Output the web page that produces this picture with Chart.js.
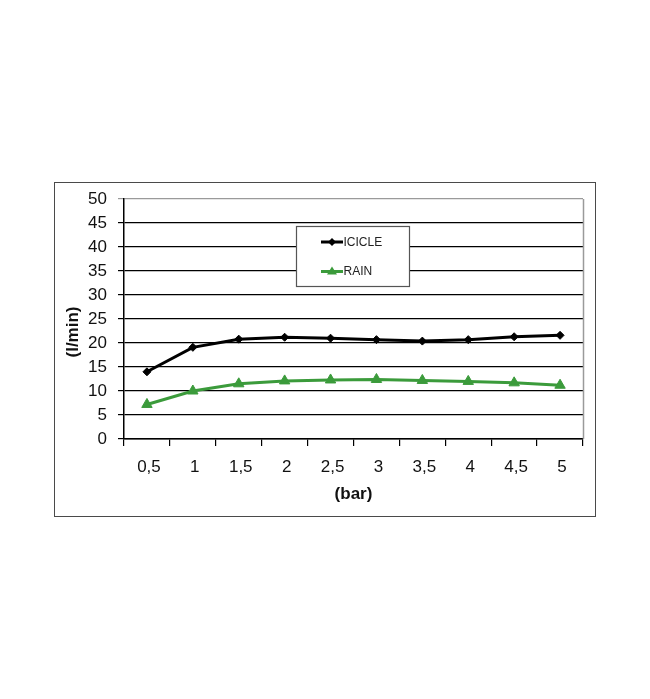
<!DOCTYPE html>
<html>
<head>
<meta charset="utf-8">
<script src="https://cdn.jsdelivr.net/npm/chart.js@4/dist/chart.umd.min.js"></script>
<style>
html,body{margin:0;padding:0;background:#fff;}
#wrap{position:relative;width:650px;height:699px;}
</style>
</head>
<body>
<div id="wrap"><canvas id="c" width="650" height="699"></canvas></div>
<script>
const categories = ['0,5','1','1,5','2','2,5','3','3,5','4','4,5','5'];
const icicle = [14.0, 19.1, 20.8, 21.2, 21.0, 20.7, 20.4, 20.7, 21.3, 21.6];
const rain = [7.2, 10.0, 11.5, 12.1, 12.3, 12.4, 12.2, 12.0, 11.7, 11.2];
const seriesNames = ['ICICLE','RAIN'];
const yTitle = '(l/min)';
const xTitle = '(bar)';

const FONT = "'Liberation Sans',Arial,sans-serif";
const GREEN = '#3b9b3b';

const framePlugin = {
  id: 'frame',
  beforeDraw(chart) {
    const ctx = chart.ctx;
    ctx.save();
    ctx.fillStyle = '#fff';
    ctx.fillRect(0, 0, chart.width, chart.height);
    ctx.strokeStyle = '#4a4a4a';
    ctx.lineWidth = 1;
    ctx.strokeRect(54.5, 182.5, 541, 334);
    ctx.restore();
  },
  afterDatasetsDraw(chart) {
    const ctx = chart.ctx;
    const a = chart.chartArea;
    ctx.save();
    ctx.strokeStyle = '#9a9a9a';
    ctx.lineWidth = 1.5;
    ctx.beginPath();
    ctx.moveTo(Math.round(a.right) + 0.5, a.bottom);
    ctx.lineTo(Math.round(a.right) + 0.5, a.top);
    ctx.stroke();
    // y axis title
    ctx.save();
    ctx.translate(73, 332);
    ctx.rotate(-Math.PI / 2);
    ctx.fillStyle = '#111';
    ctx.font = "bold 17px " + FONT;
    ctx.textAlign = 'center';
    ctx.textBaseline = 'middle';
    ctx.fillText(yTitle, 0, 0);
    ctx.restore();
    // legend box
    const lx = 296.5, ly = 226.5, lw = 113, lh = 60;
    ctx.fillStyle = '#fff';
    ctx.fillRect(lx, ly, lw, lh);
    ctx.strokeStyle = '#555';
    ctx.lineWidth = 1.2;
    ctx.strokeRect(lx, ly, lw, lh);
    const rows = [242, 271.5];
    chart.data.datasets.forEach((ds, i) => {
      const y = rows[i];
      ctx.strokeStyle = ds.borderColor;
      ctx.lineWidth = 3;
      ctx.beginPath();
      ctx.moveTo(321, y);
      ctx.lineTo(343, y);
      ctx.stroke();
      ctx.fillStyle = ds.pointBackgroundColor;
      ctx.beginPath();
      if (i === 0) {
        ctx.moveTo(332, y - 4); ctx.lineTo(336, y); ctx.lineTo(332, y + 4); ctx.lineTo(328, y);
      } else {
        ctx.moveTo(332, y - 5); ctx.lineTo(337, y + 3); ctx.lineTo(327, y + 3);
      }
      ctx.closePath();
      ctx.fill();
      ctx.fillStyle = '#222';
      ctx.font = "12px " + FONT;
      ctx.textBaseline = 'middle';
      ctx.textAlign = 'left';
      ctx.fillText(ds.label, 343.5, y + 0.5);
    });
    ctx.restore();
  }
};

new Chart(document.getElementById('c'), {
  type: 'line',
  data: {
    labels: categories,
    datasets: [
      {
        label: seriesNames[0],
        data: icicle,
        borderColor: '#000',
        backgroundColor: '#000',
        pointBackgroundColor: '#000',
        pointBorderColor: '#000',
        borderWidth: 3,
        pointStyle: 'rectRot',
        pointRadius: 4,
        pointBorderWidth: 1,
        tension: 0
      },
      {
        label: seriesNames[1],
        data: rain,
        borderColor: GREEN,
        backgroundColor: GREEN,
        pointBackgroundColor: GREEN,
        pointBorderColor: GREEN,
        borderWidth: 3,
        pointStyle: 'triangle',
        pointRadius: 6,
        pointBorderWidth: 1,
        tension: 0
      }
    ]
  },
  options: {
    responsive: false,
    animation: false,
    events: [],
    layout: { padding: { left: 56, right: 67, top: 199, bottom: 194 } },
    plugins: { legend: { display: false }, tooltip: { enabled: false } },
    scales: {
      x: {
        offset: true,
        afterFit(s) { s.height = 66; },
        border: { display: true, color: '#000', width: 1.5 },
        grid: { offset: true, drawOnChartArea: false, drawTicks: true, tickLength: 7, color: '#000', lineWidth: 1.2 },
        ticks: { color: '#111', font: { family: FONT, size: 17 }, padding: 11, labelOffset: 2, maxRotation: 0 },
        title: { display: true, text: xTitle, color: '#111', font: { family: FONT, size: 17, weight: 'bold' }, padding: { top: 2, bottom: 0 } }
      },
      y: {
        min: 0, max: 50,
        afterFit(s) { s.width = 68; },
        border: { display: true, color: '#000', width: 1.5 },
        grid: {
          drawTicks: true, tickLength: 6,
          color: (c) => (c.tick && c.tick.value === 50) ? '#9a9a9a' : '#000',
          lineWidth: 1.2
        },
        ticks: { stepSize: 5, color: '#111', font: { family: FONT, size: 17 }, padding: 11 },
        title: { display: false }
      }
    }
  },
  plugins: [framePlugin]
});
</script>
</body>
</html>
